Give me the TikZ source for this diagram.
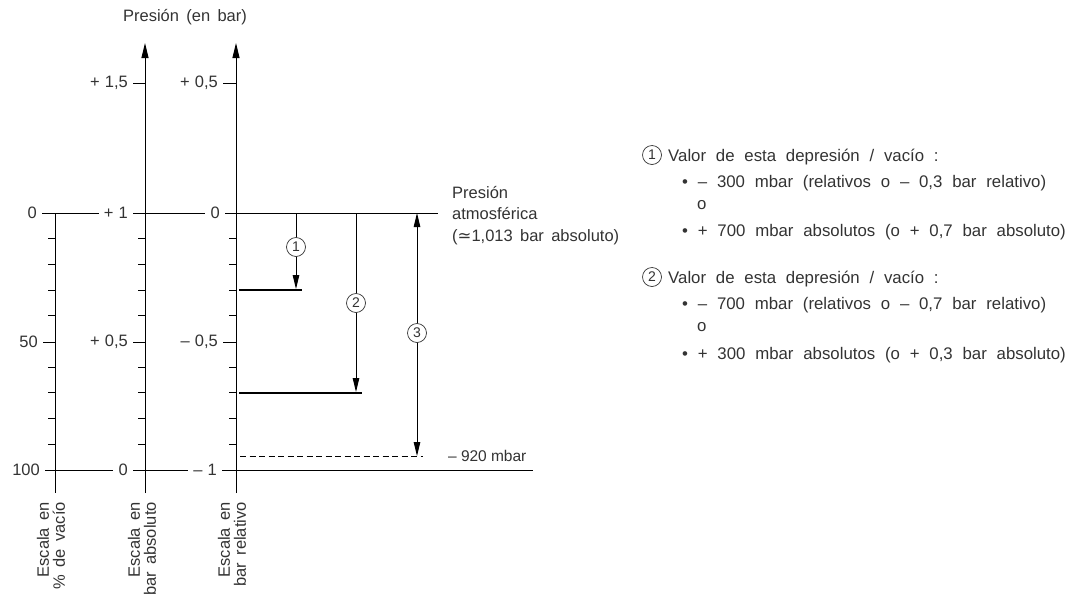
\documentclass[tikz,border=0pt]{standalone}
\usepackage{fontspec}
\setmainfont{Liberation Sans}[WordSpace=1.6]
\newfontfamily\dejavu{DejaVu Sans}
\usetikzlibrary{arrows.meta}
\definecolor{txt}{gray}{0.2}
\newcommand\mylblfont{\fontsize{16.5}{16}\selectfont\spaceskip 5pt\relax}
\newcommand\mylegfont{\fontsize{16.8}{16}\selectfont\spaceskip 9.8pt\relax}
\newcommand\mysmfont{\fontsize{15.5}{16}\selectfont\spaceskip 4.2pt\relax}
\begin{document}
\begin{tikzpicture}[x=1pt,y=-1pt,font=\fontsize{16.5}{16}\selectfont,
  ax/.style={line width=0.9pt},
  tickln/.style={line width=0.9pt},
  lbl/.style={anchor=east,inner xsep=5pt,inner ysep=1pt,text=txt,font=\mylblfont},
  barln/.style={line width=2.4pt},
  axarr/.style={-{Triangle[length=15pt,width=7pt]}},
  arr/.style={line width=0.9pt,-{Triangle[length=14pt,width=6.5pt]}},
  dbarr/.style={line width=0.9pt,{Triangle[length=14pt,width=6.5pt]}-{Triangle[length=14pt,width=6.5pt]}},
  circ/.style={circle,draw=txt,fill=white,inner sep=0pt,minimum size=19pt,line width=0.7pt,text=txt,font=\fontsize{14}{14}\selectfont},
  txtline/.style={anchor=base west,inner sep=0pt,text=txt},
  legline/.style={txtline,font=\mylegfont},
  rot/.style={rotate=90,anchor=east,align=right,inner sep=0pt,text=txt}]
\useasboundingbox (0,0) rectangle (1089,606);

\node[text=txt] (title) at (185,17) {Presión (en bar)};

% axes
\coordinate (Lt) at (55,213); \coordinate (Lb) at (55,493);
\coordinate (Mt) at (145,43); \coordinate (Mb) at (145,493);
\coordinate (Rt) at (236,43); \coordinate (Rb) at (236,493);
\draw[ax] (Lt) -- (Lb);
\draw[ax,axarr] (Mb) -- (Mt);
\draw[ax,axarr] (Rb) -- (Rt);

% minor ticks
\foreach \k in {1,2,3,4,6,7,8,9}{
  \foreach \xa in {55,145,236}{
    \draw[tickln] (\xa-7,213+25.7*\k) -- (\xa,213+25.7*\k);
  }
}

% zero line
\node[lbl] (z0) at (42,213) {0};
\node[lbl] (a1) at (133,213) {+ 1};
\node[lbl] (r0) at (225,213) {0};
\coordinate (atmE) at (438,213);
\draw[ax] (z0.east) -- (a1.west);
\draw[ax] (a1.east) -- (r0.west);
\draw[ax] (r0.east) -- (atmE);

% bottom line
\node[lbl] (z100) at (45,470) {100};
\node[lbl] (a0) at (133,470) {0};
\node[lbl] (rm1) at (222,470) {– 1};
\coordinate (botE) at (533,470);
\draw[ax] (z100.east) -- (a0.west);
\draw[ax] (a0.east) -- (rm1.west);
\draw[ax] (rm1.east) -- (botE);

% middle labelled ticks
\node[lbl] (p50) at (43,342) {50};
\node[lbl] (a05) at (133,342) {+ 0,5};
\node[lbl] (rm05) at (223,342) {– 0,5};
\coordinate (p50t) at (55,342); \coordinate (a05t) at (145,342); \coordinate (rm05t) at (236,342);
\draw[tickln] (p50.east) -- (p50t);
\draw[tickln] (a05.east) -- (a05t);
\draw[tickln] (rm05.east) -- (rm05t);

% top labelled ticks
\node[lbl] (a15) at (133,83) {+ 1,5};
\node[lbl] (rp05) at (223,83) {+ 0,5};
\coordinate (a15t) at (145,83); \coordinate (rp05t) at (236,83);
\draw[tickln] (a15.east) -- (a15t);
\draw[tickln] (rp05.east) -- (rp05t);

% levels
\coordinate (b1L) at (239,290); \coordinate (b1R) at (302,290);
\coordinate (b2L) at (239,393); \coordinate (b2R) at (362,393);
\draw[barln] (b1L) -- (b1R);
\draw[barln] (b2L) -- (b2R);

\coordinate (s1) at (296,213); \coordinate (e1) at (296,289);
\coordinate (s2) at (356,213); \coordinate (e2) at (356,392);
\coordinate (s3) at (417,213); \coordinate (e3) at (417,456);
\draw[arr] (s1) -- (e1);
\draw[arr] (s2) -- (e2);
\draw[dbarr] (s3) -- (e3);
\node[circ] (c1) at (296,247) {1};
\node[circ] (c2) at (356,303) {2};
\node[circ] (c3) at (417,333) {3};

\coordinate (dL) at (240,456); \coordinate (dR) at (423,456);
\draw[line width=0.8pt,dash pattern=on 6pt off 3.5pt] (dL) -- (dR);
\node[txtline,font=\mysmfont] (m920) at (448,461.5) {– 920 mbar};

% atmospheric text
\node[txtline] (atm1) at (452,198) {Presión};
\node[txtline] (atm2) at (452,219) {atmosférica};
\node[txtline] (atm3) at (452,241.5) {({\dejavu ≃}1,013 bar absoluto)};

% rotated scale labels
\node[rot] (sc1) at (51,502) {Escala en\\\% de vacío};
\node[rot] (sc2) at (142,502) {Escala en\\bar absoluto};
\node[rot] (sc3) at (232,502) {Escala en\\bar relativo};

% legend
\node[circ] (k1) at (652,155) {1};
\node[legline] (v1) at (668,161) {Valor de esta depresión / vacío :};
\node[legline] (v1a) at (682,187) {• – 300 mbar (relativos o – 0,3 bar relativo)};
\node[legline] (v1o) at (697,209.5) {o};
\node[legline] (v1b) at (682,236) {• + 700 mbar absolutos (o + 0,7 bar absoluto)};

\node[circ] (k2) at (652,277) {2};
\node[legline] (v2) at (668,283) {Valor de esta depresión / vacío :};
\node[legline] (v2a) at (682,309) {• – 700 mbar (relativos o – 0,7 bar relativo)};
\node[legline] (v2o) at (697,331.5) {o};
\node[legline] (v2b) at (682,359) {• + 300 mbar absolutos (o + 0,3 bar absoluto)};
\end{tikzpicture}
\end{document}
